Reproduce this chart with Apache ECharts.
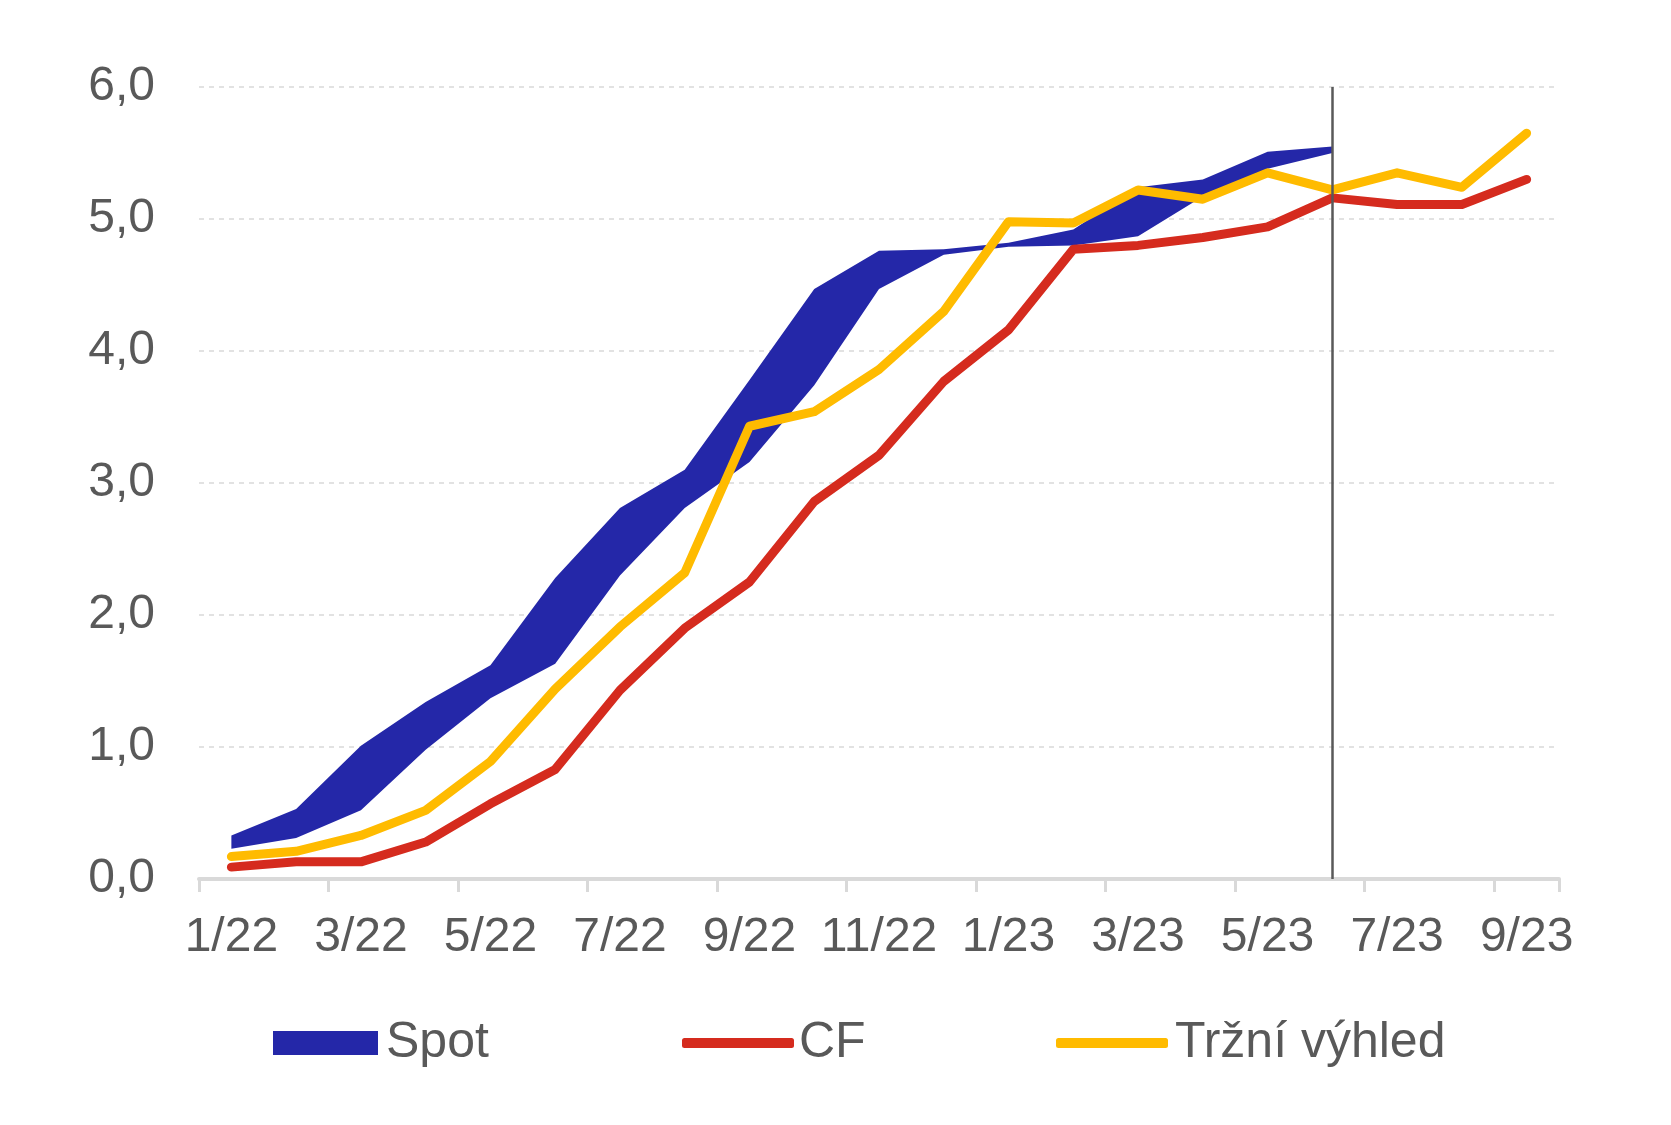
<!DOCTYPE html>
<html>
<head>
<meta charset="utf-8">
<script src="https://cdn.jsdelivr.net/npm/echarts@6/dist/echarts.min.js"></script>
<style>html,body{margin:0;padding:0;background:#fff;}#c{width:1671px;height:1125px;}</style>
</head>
<body>
<div id="c"></div>
<script>
const categories = ['1/22','2/22','3/22','4/22','5/22','6/22','7/22','8/22','9/22','10/22','11/22','12/22',
  '1/23','2/23','3/23','4/23','5/23','6/23','7/23','8/23','9/23'];
const spotLow  = [0.23,0.31,0.52,0.98,1.37,1.63,2.30,2.81,3.16,3.74,4.47,4.73,4.79,4.80,4.87,5.17,5.38,5.50];
const spotHigh = [0.33,0.53,1.01,1.34,1.62,2.28,2.81,3.10,3.78,4.47,4.76,4.77,4.82,4.92,5.24,5.30,5.51,5.55];
const cf       = [0.09,0.13,0.13,0.28,0.57,0.83,1.43,1.90,2.25,2.86,3.21,3.77,4.16,4.77,4.80,4.86,4.94,5.16,5.11,5.11,5.30];
const trzni    = [0.17,0.21,0.33,0.52,0.89,1.44,1.91,2.32,3.43,3.54,3.86,4.30,4.98,4.97,5.22,5.15,5.35,5.22,5.35,5.24,5.65];
const yTicks = [0,1,2,3,4,5,6];
const cutoff = '6/23';

const BLUE='#2427A8', RED='#D52B1E', YEL='#FFBB00', TXT='#595959', GRID='#d9d9d9';
const FONT='"Liberation Sans", Arial, sans-serif';
const spotSpan = spotHigh.map((v,i)=>+(v - spotLow[i]).toFixed(3));

const chart = echarts.init(document.getElementById('c'), null, {renderer:'canvas'});
chart.setOption({
  animation:false,
  backgroundColor:'#fff',
  textStyle:{fontFamily:FONT},
  grid:{left:199, right:112, top:87, bottom:246, containLabel:false},
  xAxis:{
    type:'category', data:categories, boundaryGap:true,
    axisLine:{show:true, lineStyle:{color:GRID, width:4}},
    axisTick:{show:true, interval:1, length:13, lineStyle:{color:GRID, width:3}},
    axisLabel:{interval:1, color:TXT, fontSize:48, fontFamily:FONT, margin:35},
    splitLine:{show:false}
  },
  yAxis:{
    type:'value', min:yTicks[0], max:yTicks[yTicks.length-1], interval:1,
    axisLine:{show:false}, axisTick:{show:false},
    axisLabel:{color:TXT, fontSize:48, fontFamily:FONT, margin:44,
      formatter:v=>v.toFixed(1).replace('.',',')},
    splitLine:{show:true, lineStyle:{color:GRID, width:1.5, type:[5,5]}}
  },
  legend:[
    {left:268, top:1013, itemWidth:105, itemHeight:24, itemGap:0,
     textStyle:{color:TXT, fontSize:50, fontFamily:FONT, padding:[0,0,0,3]},
     data:[{name:'Spot', icon:'rect', itemStyle:{color:BLUE}}]},
    {left:677, top:1013, itemWidth:112, itemHeight:10, itemGap:0,
     textStyle:{color:TXT, fontSize:50, fontFamily:FONT, padding:[0,0,0,0]},
     data:[{name:'CF', icon:'roundRect', itemStyle:{color:RED}}]},
    {left:1051, top:1013, itemWidth:112, itemHeight:10, itemGap:0,
     textStyle:{color:TXT, fontSize:50, fontFamily:FONT, padding:[0,0,0,2]},
     data:[{name:'Tržní výhled', icon:'roundRect', itemStyle:{color:YEL}}]}
  ],
  series:[
    {name:'spotLow', type:'line', stack:'spot', data:spotLow, symbol:'none',
     lineStyle:{width:0, opacity:0}, silent:true, z:1},
    {name:'Spot', type:'line', stack:'spot', data:spotSpan, symbol:'none',
     itemStyle:{color:BLUE}, lineStyle:{width:0, opacity:0},
     areaStyle:{color:BLUE, opacity:1}, z:2},
    {name:'CF', type:'line', data:cf, symbol:'none', itemStyle:{color:RED},
     lineStyle:{color:RED, width:9, cap:'round', join:'round'}, z:3},
    {name:'Tržní výhled', type:'line', data:trzni, symbol:'none', itemStyle:{color:YEL},
     lineStyle:{color:YEL, width:9, cap:'round', join:'round'}, z:4,
     markLine:{silent:true, symbol:'none', label:{show:false}, animation:false,
       lineStyle:{color:'#595959', width:2.5, type:'solid'},
       data:[{xAxis:cutoff}]}}
  ]
});
</script>
</body>
</html>
